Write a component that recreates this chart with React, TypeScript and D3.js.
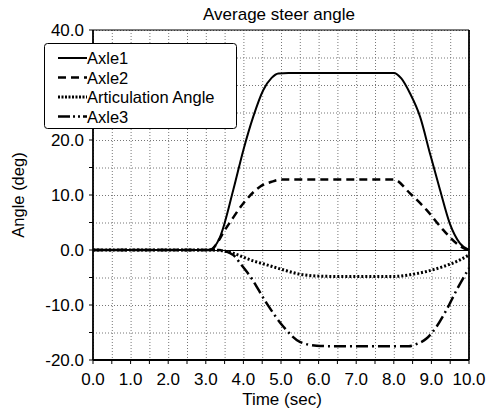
import React from "react";
import * as d3 from "d3";

const title = "Average steer angle";
const xLabel = "Time (sec)";
const yLabel = "Angle (deg)";
const xTicks = [0, 1, 2, 3, 4, 5, 6, 7, 8, 9, 10];
const yTicks = [-20, -10, 0, 10, 20, 40];
const seriesNames = ["Axle1", "Axle2", "Articulation Angle", "Axle3"];

const axle1: [number, number][] = [
  [0, 0], [3.1, 0], [3.38, 2.4], [3.73, 10.9], [4.0, 18.2], [4.26, 24.2], [4.53, 29.1],
  [4.75, 31.3], [4.93, 32.1], [5.2, 32.2], [8.0, 32.2], [8.2, 31.2], [8.43, 28.5],
  [8.7, 24.2], [8.96, 17.6], [9.23, 10.9], [9.49, 4.8], [9.76, 1.2], [10, 0],
];
const axle2: [number, number][] = [
  [0, 0], [3.1, 0], [3.56, 4.2], [4.0, 8.5], [4.44, 11.5], [4.75, 12.4], [5.0, 12.8],
  [8.0, 12.8], [8.43, 10.3], [8.87, 7.3], [9.32, 3.6], [9.67, 1.2], [9.94, 0.1], [10, 0],
];
const articulation: [number, number][] = [
  [0, 0], [3.2, 0], [3.73, -0.6], [4.18, -1.8], [4.62, -2.7], [5.06, -3.6], [5.5, -4.4],
  [6.0, -4.75], [6.4, -4.8], [8.0, -4.8], [8.43, -4.5], [8.87, -3.9], [9.32, -3.0],
  [9.76, -1.8], [10, -0.9],
];
const axle3: [number, number][] = [
  [0, 0], [3.3, 0], [3.73, -0.9], [3.91, -2.4], [4.18, -4.8], [4.62, -9.7], [5.06, -13.9],
  [5.5, -16.7], [5.95, -17.4], [6.4, -17.5], [8.4, -17.5], [8.6, -17.1], [8.87, -16.1],
  [9.14, -13.9], [9.4, -10.9], [9.67, -7.3], [10, -3.3],
];

const seriesData = [axle1, axle2, articulation, axle3];
const seriesStyle = [
  { width: 2, dash: "none" },
  { width: 2.5, dash: "8,5" },
  { width: 3, dash: "2,2" },
  { width: 2.5, dash: "12,4,2,4" },
];

const font = "'Liberation Sans', Arial, sans-serif";

export default function App() {
  const W = 488, H = 410;
  const x = d3.scaleLinear().domain([0, 10]).range([93, 469]);
  const y = d3.scaleLinear().domain([-20, 40]).range([360, 30]);
  const line = d3
    .line<[number, number]>()
    .x((d) => x(d[0]))
    .y((d) => y(d[1]))
    .curve(d3.curveMonotoneX);

  const xGrid = d3.range(0, 10.01, 0.5);
  const yGrid = d3.range(-20, 40.01, 5);
  const [x0, x1] = x.range();
  const [y0, y1] = y.range();

  return (
    <svg width={W} height={H} style={{ position: "absolute", left: 0, top: 0, background: "#fff" }}>
      <rect x={0} y={0} width={W} height={H} fill="#fff" />
      {xGrid.map((t) => (
        <line key={"gx" + t} x1={x(t) + 0.5} x2={x(t) + 0.5} y1={y1} y2={y0} stroke="#777" strokeWidth={1} strokeDasharray="1,2" />
      ))}
      {yGrid.map((v) => (
        <line key={"gy" + v} x1={x0} x2={x1} y1={y(v) + 0.5} y2={y(v) + 0.5} stroke="#777" strokeWidth={1} strokeDasharray="1,2" />
      ))}
      <line x1={x0} x2={x1} y1={y(0) + 0.5} y2={y(0) + 0.5} stroke="#000" strokeWidth={1} />
      {xGrid.map((t) => (
        <line key={"tx" + t} x1={x(t)} x2={x(t)} y1={y0} y2={y0 + 4} stroke="#000" strokeWidth={1} />
      ))}
      {yGrid.map((v) => (
        <line key={"ty" + v} x1={x0 - 4} x2={x0} y1={y(v)} y2={y(v)} stroke="#000" strokeWidth={1} />
      ))}
      {seriesData.map((d, i) => (
        <path
          key={"s" + i}
          d={line(d) || ""}
          fill="none"
          stroke="#000"
          strokeWidth={seriesStyle[i].width}
          strokeDasharray={seriesStyle[i].dash}
        />
      ))}
      <line x1={x0} x2={x1} y1={y1} y2={y1} stroke="#000" strokeWidth={1.2} />
      <line x1={x1} x2={x1} y1={y1} y2={y0} stroke="#000" strokeWidth={1.8} />
      <line x1={x0} x2={x0} y1={y1} y2={y0} stroke="#000" strokeWidth={1.8} />
      <line x1={x0} x2={x1} y1={y0} y2={y0} stroke="#000" strokeWidth={1.8} />
      {xTicks.map((t) => (
        <text key={"lx" + t} x={x(t)} y={385} textAnchor="middle" fontFamily={font} fontSize={17} fill="#000">
          {t.toFixed(1)}
        </text>
      ))}
      {yTicks.map((v) => (
        <text key={"ly" + v} x={84} y={y(v) + 6} textAnchor="end" fontFamily={font} fontSize={17} fill="#000">
          {v.toFixed(1)}
        </text>
      ))}
      <text x={279} y={20} textAnchor="middle" fontFamily={font} fontSize={17} fill="#000">
        {title}
      </text>
      <text x={282} y={405} textAnchor="middle" fontFamily={font} fontSize={17} fill="#000">
        {xLabel}
      </text>
      <text
        transform={`translate(24,195) rotate(-90)`}
        textAnchor="middle"
        fontFamily={font}
        fontSize={16.5}
        fill="#000"
      >
        {yLabel}
      </text>
      <rect x={44.5} y={43.5} width={192} height={85} rx={3} fill="#fff" stroke="#000" strokeWidth={1} />
      {seriesNames.map((name, i) => (
        <g key={"lg" + i}>
          <line
            x1={58}
            x2={87}
            y1={58 + i * 19.5}
            y2={58 + i * 19.5}
            stroke="#000"
            strokeWidth={seriesStyle[i].width}
            strokeDasharray={i === 3 ? "12,3,2,3,2,3" : seriesStyle[i].dash === "2,2" ? "2,1.5" : seriesStyle[i].dash}
          />
          <text x={87} y={64 + i * 19.5} fontFamily={font} fontSize={16.5} fill="#000">
            {name}
          </text>
        </g>
      ))}
    </svg>
  );
}
